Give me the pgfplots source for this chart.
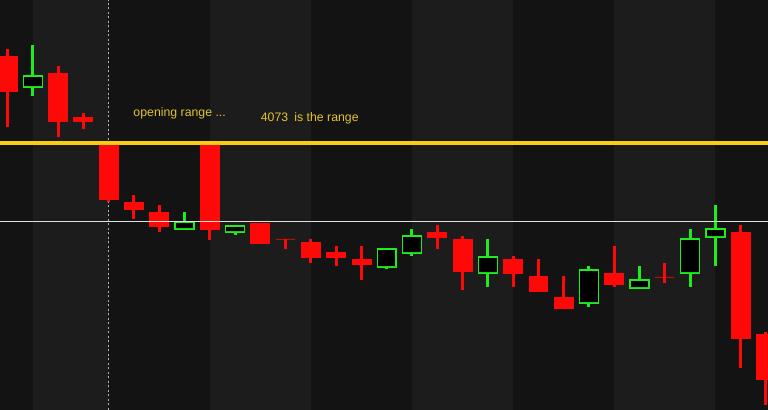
\documentclass[border=0pt]{standalone}
\usepackage{pgfplots}
\pgfplotsset{compat=1.18}
\usepackage{pgfplotstable}
\usepgfplotslibrary{statistics}
\usepackage{fontspec}
\setmainfont{Liberation Sans}

\definecolor{bgdark}{RGB}{19,19,19}
\definecolor{bglight}{RGB}{28,28,28}
\definecolor{bullgreen}{RGB}{30,236,30}
\definecolor{bearred}{RGB}{255,8,8}
\definecolor{rangegold}{RGB}{250,204,21}
\definecolor{labelgold}{RGB}{226,196,46}
\definecolor{sessionline}{RGB}{165,178,192}

% one row per bar: open, high, low, close
\pgfplotstableread{
idx open high low close
0   354  361  283  319
1   323  365  314  334
2   337  344  273  289
3   293  297  281  289
4   265  266  208  211
5   208  215  191  201
6   198  205  178  184
7   181  198  181  188
8   266  266  170  181
9   178  184  175  184
10  187  187  167  167
11  171  171  161  171
12  168  171  147  153
13  158  164  144  153
14  151  164  130  146
15  143  161  141  161
16  157  181  154  174
17  178  185  161  173
18  171  174  120  139
19  137  171  123  153
20  151  154  123  137
21  134  151  119  119
22  113  134  102  102
23  107  144  103  140
24  137  164  123  126
25  122  144  121  130
26  133  147  127  133
27  137  181  123  171
28  173  205  144  181
29  178  185   42   72
30   76   78    5   31
}\candles

\pgfplotsset{
  bear/.style={draw=bearred, fill=bearred, line width=0.8bp},
  bull/.style={draw=bullgreen, fill=black, line width=1.4bp},
}

\begin{document}
\begin{tikzpicture}
\begin{axis}[
  width=768bp, height=410bp, scale only axis,
  xmin=-0.2967, xmax=30.083,
  ymin=0, ymax=410,
  ticks=none,
  axis line style={draw=none},
  axis background/.style={fill=bgdark},
]
% alternating session shading
\addplot[fill=bglight, draw=none] coordinates {(1,0) (1,410) (4,410) (4,0)} -- cycle;
\addplot[fill=bglight, draw=none] coordinates {(8,0) (8,410) (12,410) (12,0)} -- cycle;
\addplot[fill=bglight, draw=none] coordinates {(16,0) (16,410) (20,410) (20,0)} -- cycle;
\addplot[fill=bglight, draw=none] coordinates {(24,0) (24,410) (28,410) (28,0)} -- cycle;

% session open marker
\addplot[sessionline, line width=1bp, dash pattern=on 2bp off 2.5bp]
  coordinates {(4,0) (4,410)};

% candles
\pgfplotstablegetrowsof{\candles}
\pgfmathtruncatemacro\lastrow{\pgfplotsretval-1}
\pgfplotsforeachungrouped \r in {0,...,\lastrow}{%
  \pgfplotstablegetelem{\r}{open}\of\candles \let\vo\pgfplotsretval
  \pgfplotstablegetelem{\r}{high}\of\candles \let\vh\pgfplotsretval
  \pgfplotstablegetelem{\r}{low}\of\candles  \let\vl\pgfplotsretval
  \pgfplotstablegetelem{\r}{close}\of\candles \let\vc\pgfplotsretval
  \pgfmathsetmacro\blo{min(\vo,\vc)}%
  \pgfmathsetmacro\bhi{max(\vo,\vc)}%
  \pgfmathtruncatemacro\isup{\vc>\vo}%
  \edef\candle{\noexpand\addplot[\ifnum\isup=1 bull\else bear\fi,
    boxplot prepared={draw direction=y, draw position=\r, lower whisker=\vl,
      lower quartile=\blo, median=\blo, upper quartile=\bhi,
      upper whisker=\vh, box extend=0.75, whisker extend=0,
      every whisker/.style={line width=3bp},
      every median/.style={draw=none}}] coordinates {};}%
  \candle
}

% opening range high and reference level
\addplot[rangegold, line width=3.5bp] coordinates {(-0.2967,267) (30.083,267)};
\addplot[white!88!black, line width=1bp] coordinates {(-0.2967,188) (30.083,188)};

\node[anchor=base west, inner sep=0pt, text=labelgold, font=\fontsize{12.3bp}{14bp}\selectfont]
  at (axis cs:4.976,294) {opening range ...};
\node[anchor=base west, inner sep=0pt, text=labelgold, font=\fontsize{12.3bp}{14bp}\selectfont]
  at (axis cs:10.016,289) {4073\hspace{0.5em}is the range};
\end{axis}
\pgfresetboundingbox
\useasboundingbox (current axis.south west) rectangle (current axis.north east);
\end{tikzpicture}
\end{document}
